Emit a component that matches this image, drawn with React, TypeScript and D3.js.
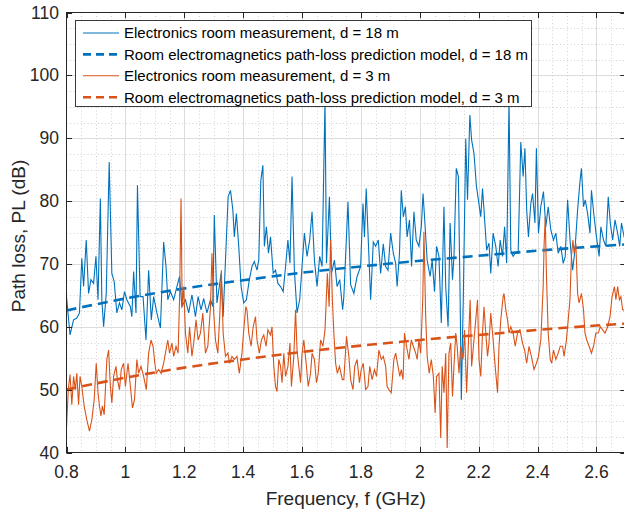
import React, { useRef, useEffect } from "react";
import * as d3 from "d3";

// measured path loss, d = 18 m  [GHz, dB]
const meas18: [number, number][] = [
  [0.800,64.8],[0.812,58.7],[0.824,61.1],[0.835,61.4],[0.844,62.2],[0.852,70.9],[0.858,66.4],[0.867,73.8],[0.875,65.3],[0.883,67.5],
  [0.892,66.9],[0.900,71.2],[0.907,64.3],[0.915,80.4],[0.920,64.3],[0.926,60.0],[0.935,65.3],[0.945,86.2],[0.954,68.5],[0.962,67.2],
  [0.971,62.2],[0.980,63.8],[0.988,62.7],[0.997,65.6],[1.005,64.3],[1.017,63.2],[1.022,61.6],[1.028,68.8],[1.036,62.2],[1.041,82.5],
  [1.050,64.8],[1.060,64.8],[1.070,57.9],[1.079,69.0],[1.088,61.1],[1.096,64.8],[1.107,62.2],[1.119,59.8],[1.130,73.5],[1.138,69.6],
  [1.144,64.3],[1.153,65.6],[1.164,64.3],[1.175,66.4],[1.184,68.0],[1.192,63.2],[1.204,64.3],[1.215,62.2],[1.226,65.1],[1.238,61.6],
  [1.247,64.8],[1.257,62.7],[1.266,64.5],[1.277,62.2],[1.289,64.3],[1.297,63.2],[1.302,77.8],[1.311,63.8],[1.319,66.4],[1.325,68.5],
  [1.332,61.6],[1.340,70.6],[1.349,80.7],[1.357,81.7],[1.365,78.6],[1.370,74.3],[1.377,78.0],[1.385,72.8],[1.393,66.4],[1.402,63.8],
  [1.411,64.3],[1.421,67.5],[1.430,69.6],[1.438,70.4],[1.447,69.0],[1.453,70.6],[1.460,83.3],[1.467,85.7],[1.472,72.8],[1.479,75.9],
  [1.486,71.7],[1.493,74.3],[1.502,68.5],[1.510,69.0],[1.518,66.9],[1.527,66.4],[1.536,65.6],[1.544,69.6],[1.552,73.8],[1.559,70.1],
  [1.566,83.9],[1.574,69.0],[1.583,62.2],[1.592,64.3],[1.600,69.6],[1.608,74.9],[1.617,71.2],[1.626,73.8],[1.634,78.3],[1.642,70.6],
  [1.651,66.4],[1.660,71.2],[1.668,69.6],[1.678,96.0],[1.683,70.1],[1.693,80.7],[1.700,68.5],[1.710,70.6],[1.719,66.4],[1.728,67.5],
  [1.738,62.7],[1.742,64.8],[1.756,79.9],[1.765,66.7],[1.776,65.3],[1.787,68.0],[1.799,69.6],[1.807,79.6],[1.812,74.3],[1.818,82.0],
  [1.824,74.9],[1.833,64.3],[1.842,73.5],[1.850,72.8],[1.859,73.8],[1.867,68.5],[1.876,73.2],[1.884,69.6],[1.892,69.0],[1.901,74.9],
  [1.910,71.7],[1.918,70.1],[1.923,66.4],[1.931,71.7],[1.937,81.7],[1.944,77.5],[1.951,79.1],[1.957,74.3],[1.965,77.0],[1.972,69.6],
  [1.980,78.3],[1.988,73.8],[1.997,72.8],[2.005,75.9],[2.011,81.2],[2.016,77.5],[2.025,70.6],[2.035,68.0],[2.042,70.6],[2.050,65.6],
  [2.057,72.8],[2.065,71.2],[2.073,60.6],[2.082,79.1],[2.088,66.4],[2.096,60.0],[2.103,76.5],[2.111,67.5],[2.116,71.2],[2.124,85.2],
  [2.131,83.9],[2.137,64.3],[2.141,48.4],[2.148,65.3],[2.156,89.9],[2.162,80.2],[2.170,93.7],[2.176,89.7],[2.184,87.6],[2.192,82.5],
  [2.199,80.2],[2.207,77.5],[2.213,82.0],[2.218,78.6],[2.227,72.2],[2.235,73.3],[2.241,68.5],[2.249,74.9],[2.258,72.8],[2.266,69.6],
  [2.273,73.8],[2.281,71.2],[2.288,75.9],[2.295,70.1],[2.303,96.0],[2.309,72.2],[2.317,71.2],[2.324,71.7],[2.334,71.7],[2.343,89.4],
  [2.351,83.9],[2.357,88.4],[2.363,78.6],[2.369,74.3],[2.377,79.6],[2.383,81.2],[2.391,76.5],[2.396,88.4],[2.403,74.9],[2.411,79.1],
  [2.420,81.5],[2.428,75.9],[2.436,79.1],[2.445,75.4],[2.454,73.8],[2.462,74.9],[2.470,71.7],[2.479,72.8],[2.487,70.1],[2.494,71.2],
  [2.502,80.2],[2.511,73.3],[2.519,69.0],[2.527,72.2],[2.536,78.6],[2.544,83.1],[2.549,85.2],[2.556,79.1],[2.562,80.2],[2.570,78.0],
  [2.578,74.9],[2.583,81.7],[2.592,77.5],[2.600,74.3],[2.609,71.2],[2.615,75.9],[2.624,73.8],[2.632,72.8],[2.640,80.7],[2.647,76.5],
  [2.655,73.8],[2.663,77.0],[2.672,74.9],[2.679,72.8],[2.685,76.5],[2.694,74.3],[2.700,73.5],
];

// measured path loss, d = 3 m
const meas3: [number, number][] = [
  [0.800,43.9],[0.806,50.0],[0.812,52.4],[0.818,47.6],[0.824,52.1],[0.830,50.0],[0.835,52.6],[0.841,47.6],[0.846,52.1],[0.852,50.5],
  [0.860,47.4],[0.869,45.2],[0.878,43.4],[0.886,45.2],[0.894,48.4],[0.901,54.2],[0.907,49.5],[0.912,47.4],[0.917,45.8],[0.922,47.4],
  [0.928,46.0],[0.937,54.8],[0.943,56.3],[0.949,50.5],[0.954,47.9],[0.960,52.1],[0.968,53.7],[0.973,51.6],[0.980,50.0],[0.986,53.2],
  [0.994,54.2],[1.000,50.5],[1.009,54.2],[1.017,50.5],[1.024,47.1],[1.031,48.4],[1.039,54.8],[1.045,52.6],[1.053,53.7],[1.062,52.1],
  [1.071,50.0],[1.079,55.8],[1.087,57.9],[1.094,56.9],[1.100,54.2],[1.105,52.6],[1.113,53.2],[1.121,52.6],[1.130,54.2],[1.136,55.8],
  [1.144,57.9],[1.150,55.8],[1.158,57.4],[1.164,55.3],[1.172,56.9],[1.179,55.8],[1.184,64.3],[1.189,80.4],[1.193,63.2],[1.198,66.4],
  [1.204,59.0],[1.212,55.8],[1.218,60.0],[1.226,55.3],[1.232,57.4],[1.240,61.1],[1.247,57.9],[1.255,59.0],[1.263,62.2],[1.272,55.8],
  [1.280,56.9],[1.289,63.2],[1.294,71.7],[1.300,62.2],[1.306,57.9],[1.314,55.8],[1.321,62.2],[1.326,69.0],[1.332,59.0],[1.340,55.3],
  [1.348,55.8],[1.354,54.2],[1.362,55.3],[1.370,54.8],[1.379,55.3],[1.387,52.6],[1.396,55.8],[1.402,59.5],[1.409,63.2],[1.413,62.7],
  [1.419,59.0],[1.427,56.9],[1.434,60.0],[1.442,61.6],[1.447,57.9],[1.455,55.8],[1.462,57.9],[1.470,58.7],[1.478,56.9],[1.484,59.5],
  [1.493,58.7],[1.498,60.0],[1.504,53.7],[1.510,50.5],[1.515,49.7],[1.521,54.8],[1.527,53.7],[1.532,51.1],[1.538,55.8],[1.544,52.1],
  [1.552,53.7],[1.559,57.4],[1.564,50.5],[1.572,55.3],[1.578,62.7],[1.583,56.3],[1.589,53.7],[1.595,51.1],[1.600,55.8],[1.606,57.9],
  [1.614,54.2],[1.621,50.5],[1.629,52.6],[1.634,55.8],[1.642,54.8],[1.649,51.1],[1.655,52.6],[1.663,57.9],[1.671,56.9],[1.678,59.5],
  [1.686,68.5],[1.692,63.2],[1.697,73.8],[1.703,64.3],[1.708,59.0],[1.714,54.2],[1.720,52.6],[1.727,53.7],[1.737,51.6],[1.742,51.6],
  [1.751,58.5],[1.759,55.3],[1.765,51.6],[1.773,50.0],[1.779,53.7],[1.787,54.8],[1.795,51.1],[1.801,53.2],[1.808,54.2],[1.816,50.0],
  [1.824,50.5],[1.830,53.7],[1.838,51.6],[1.846,53.2],[1.853,52.1],[1.861,56.3],[1.869,54.8],[1.876,55.3],[1.884,53.7],[1.889,50.5],
  [1.895,50.0],[1.903,49.5],[1.912,54.8],[1.918,55.8],[1.926,53.7],[1.932,52.1],[1.937,53.2],[1.943,51.6],[1.948,59.0],[1.955,56.9],
  [1.963,54.8],[1.971,57.9],[1.978,56.9],[1.986,55.8],[1.991,54.8],[1.997,57.9],[2.003,55.8],[2.010,64.3],[2.014,75.1],[2.020,61.6],
  [2.025,55.3],[2.032,52.6],[2.039,54.8],[2.046,52.1],[2.052,46.3],[2.057,52.1],[2.065,52.6],[2.071,42.3],[2.076,53.7],[2.082,49.5],
  [2.088,55.8],[2.093,40.7],[2.099,55.8],[2.105,57.4],[2.111,48.9],[2.116,53.7],[2.122,59.0],[2.127,56.9],[2.133,52.6],[2.139,56.9],
  [2.147,54.8],[2.152,59.5],[2.159,49.5],[2.165,57.4],[2.171,64.3],[2.176,53.7],[2.184,57.9],[2.190,61.1],[2.196,64.3],[2.201,54.8],
  [2.207,52.1],[2.213,59.0],[2.218,63.2],[2.224,59.0],[2.230,55.3],[2.235,57.4],[2.241,62.2],[2.249,57.9],[2.256,53.7],[2.264,49.5],
  [2.269,56.9],[2.275,61.1],[2.283,64.8],[2.286,65.3],[2.292,62.7],[2.298,61.1],[2.303,59.0],[2.309,60.0],[2.317,59.0],[2.324,56.9],
  [2.332,59.0],[2.340,59.5],[2.349,57.4],[2.356,56.3],[2.363,54.2],[2.371,56.9],[2.379,55.3],[2.388,53.2],[2.396,54.2],[2.403,55.3],
  [2.411,57.9],[2.419,66.4],[2.422,72.8],[2.426,77.5],[2.430,68.5],[2.436,59.0],[2.443,54.8],[2.448,54.2],[2.454,56.3],[2.462,54.8],
  [2.470,55.8],[2.477,56.9],[2.485,56.9],[2.490,55.3],[2.498,57.9],[2.504,61.1],[2.510,64.3],[2.515,71.2],[2.520,73.8],[2.524,71.7],
  [2.530,73.3],[2.536,65.3],[2.541,63.8],[2.549,65.3],[2.556,62.7],[2.561,59.0],[2.567,57.9],[2.575,56.9],[2.583,55.8],[2.590,56.9],
  [2.598,59.0],[2.606,59.0],[2.613,60.0],[2.621,59.5],[2.629,59.0],[2.638,60.0],[2.646,61.6],[2.653,64.8],[2.661,66.4],[2.666,64.3],
  [2.672,66.4],[2.678,64.3],[2.683,64.8],[2.689,62.7],[2.694,62.7],[2.700,60.5],
];

// prediction model, read at the major ticks
const model18: [number, number][] = [
  [0.8,62.6],[1.0,64.5],[1.2,66.1],[1.4,67.4],[1.6,68.6],[1.8,69.6],[2.0,70.5],[2.2,71.3],[2.4,72.1],[2.6,72.8],[2.7,73.1],
];
const model3: [number, number][] = [
  [0.8,50.0],[1.0,51.9],[1.2,53.5],[1.4,54.8],[1.6,56.0],[1.8,57.0],[2.0,57.9],[2.2,58.7],[2.4,59.5],[2.6,60.2],[2.7,60.5],
];

const xTicks = [0.8, 1, 1.2, 1.4, 1.6, 1.8, 2, 2.2, 2.4, 2.6];
const yTicks = [40, 50, 60, 70, 80, 90, 100, 110];

const legendItems = [
  { label: "Electronics room measurement, d = 18 m", color: "#0072BD", dashed: false },
  { label: "Room electromagnetics path-loss prediction model, d = 18 m", color: "#0072BD", dashed: true },
  { label: "Electronics room measurement, d = 3 m", color: "#D95319", dashed: false },
  { label: "Room electromagnetics path-loss prediction model, d = 3 m", color: "#D95319", dashed: true },
];

const FONT = "'Liberation Sans', Arial, Helvetica, sans-serif";
const INK = "#262626";

const App = () => {
  const ref = useRef<SVGSVGElement>(null);

  useEffect(() => {
    const svg = d3.select(ref.current);
    svg.selectAll("*").remove();

    const x = d3.scaleLinear().domain([0.8, 2.7]).range([66.5, 625.9]);
    const y = d3.scaleLinear().domain([40, 110]).range([452.5, 12.5]);
    const [x0, x1] = x.range();
    const [y0, y1] = y.range();

    svg.append("defs").append("clipPath").attr("id", "plotclip")
      .append("rect").attr("x", x0).attr("y", y1).attr("width", x1 - x0).attr("height", y0 - y1);

    // minor grid (dotted)
    const minorX = d3.range(0.85, 2.7, 0.05).filter(v => Math.abs(v * 5 - Math.round(v * 5)) > 0.01);
    const minorY = d3.range(42.5, 110, 2.5).filter(v => v % 10 !== 0);
    const grid = svg.append("g");
    grid.selectAll(".mx").data(minorX).join("line")
      .attr("x1", d => Math.round(x(d)) + 0.5).attr("x2", d => Math.round(x(d)) + 0.5)
      .attr("y1", y1).attr("y2", y0)
      .attr("stroke", "#d2d2d2").attr("stroke-dasharray", "1,2.5");
    grid.selectAll(".my").data(minorY).join("line")
      .attr("y1", d => Math.round(y(d)) + 0.5).attr("y2", d => Math.round(y(d)) + 0.5)
      .attr("x1", x0).attr("x2", x1)
      .attr("stroke", "#d2d2d2").attr("stroke-dasharray", "1,2.5");
    // major grid
    grid.selectAll(".gx").data(xTicks.slice(1)).join("line")
      .attr("x1", d => Math.round(x(d)) + 0.5).attr("x2", d => Math.round(x(d)) + 0.5)
      .attr("y1", y1).attr("y2", y0).attr("stroke", "#dcdcdc");
    grid.selectAll(".gy").data(yTicks.slice(1, -1)).join("line")
      .attr("y1", d => Math.round(y(d)) + 0.5).attr("y2", d => Math.round(y(d)) + 0.5)
      .attr("x1", x0).attr("x2", x1).attr("stroke", "#dcdcdc");

    const line = d3.line<[number, number]>().x(d => x(d[0])).y(d => y(d[1]));
    const smooth = d3.line<[number, number]>().x(d => x(d[0])).y(d => y(d[1])).curve(d3.curveMonotoneX);

    const plot = svg.append("g").attr("clip-path", "url(#plotclip)");
    plot.append("path").datum(meas18).attr("d", line)
      .attr("fill", "none").attr("stroke", "#0072BD").attr("stroke-width", 1.1);
    plot.append("path").datum(model18).attr("d", smooth)
      .attr("fill", "none").attr("stroke", "#0072BD").attr("stroke-width", 2.6).attr("stroke-dasharray", "10,6");
    plot.append("path").datum(meas3).attr("d", line)
      .attr("fill", "none").attr("stroke", "#D95319").attr("stroke-width", 1.1);
    plot.append("path").datum(model3).attr("d", smooth)
      .attr("fill", "none").attr("stroke", "#D95319").attr("stroke-width", 2.6).attr("stroke-dasharray", "10,6");

    // box and ticks
    const axes = svg.append("g").attr("stroke", INK).attr("fill", "none");
    axes.append("rect").attr("x", x0).attr("y", y1).attr("width", x1 - x0).attr("height", y0 - y1);
    const tl = 5.6;
    xTicks.forEach(t => {
      const px = Math.round(x(t)) + 0.5;
      axes.append("line").attr("x1", px).attr("x2", px).attr("y1", y0).attr("y2", y0 - tl);
      axes.append("line").attr("x1", px).attr("x2", px).attr("y1", y1).attr("y2", y1 + tl);
    });
    yTicks.forEach(t => {
      const py = Math.round(y(t)) + 0.5;
      axes.append("line").attr("y1", py).attr("y2", py).attr("x1", x0).attr("x2", x0 + tl);
      axes.append("line").attr("y1", py).attr("y2", py).attr("x1", x1).attr("x2", x1 - tl);
    });

    const labels = svg.append("g").attr("font-family", FONT).attr("fill", INK);
    labels.selectAll(".xt").data(xTicks).join("text")
      .attr("x", d => x(d)).attr("y", 477.5).attr("text-anchor", "middle").attr("font-size", 17.5)
      .text(d => String(d));
    labels.selectAll(".yt").data(yTicks).join("text")
      .attr("x", 59).attr("y", d => y(d) + 6).attr("text-anchor", "end").attr("font-size", 17.5)
      .text(d => String(d));
    labels.append("text").attr("x", (x0 + 625) / 2).attr("y", 505).attr("text-anchor", "middle")
      .attr("font-size", 19).text("Frequency, f (GHz)");
    labels.append("text").attr("transform", "translate(25,236) rotate(-90)").attr("text-anchor", "middle")
      .attr("font-size", 19).text("Path loss, PL (dB)");

    // legend
    const lg = svg.append("g").attr("font-family", FONT);
    lg.append("rect").attr("x", 75.5).attr("y", 20.5).attr("width", 456).attr("height", 86)
      .attr("fill", "white").attr("stroke", "#3a3a3a");
    legendItems.forEach((it, i) => {
      const ly = 33 + i * 21.4;
      lg.append("line").attr("x1", 83).attr("x2", 119).attr("y1", ly).attr("y2", ly)
        .attr("stroke", it.color).attr("stroke-width", it.dashed ? 2.6 : 1.1)
        .attr("stroke-dasharray", it.dashed ? "8,5" : null);
      lg.append("text").attr("x", 124).attr("y", ly + 5.3).attr("font-size", 15).attr("fill", "#000")
        .text(it.label);
    });
  }, []);

  return (
    <svg ref={ref} width={624} height={512}
      style={{ position: "absolute", left: 0, top: 0, background: "white" }} />
  );
};

export default App;
